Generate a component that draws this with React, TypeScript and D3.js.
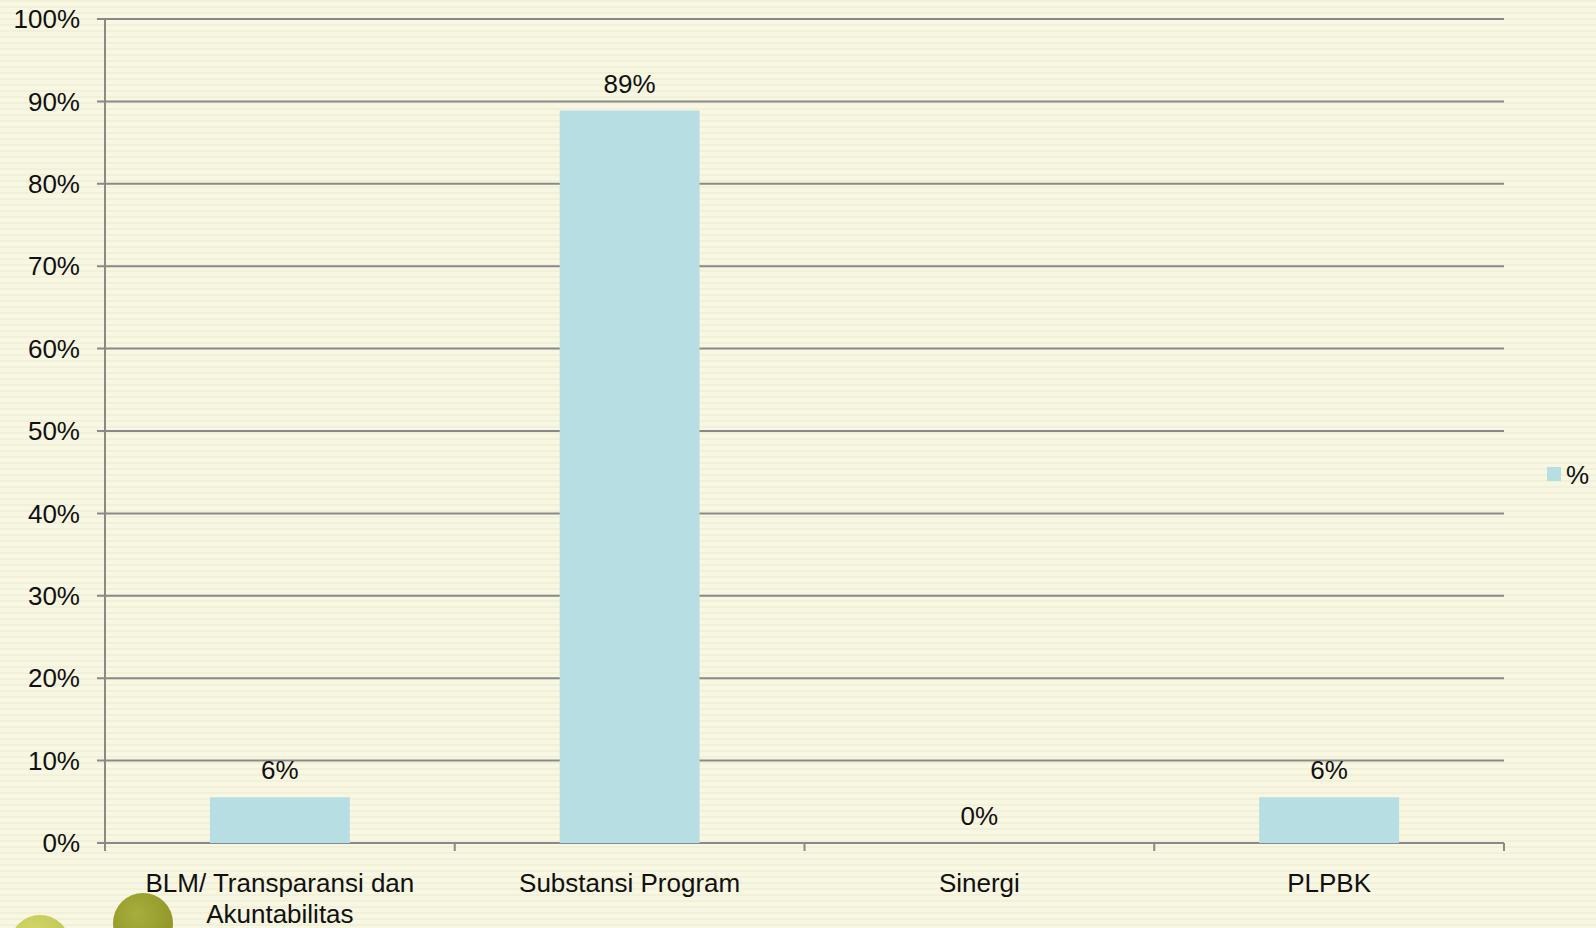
import React from "react";
import * as d3 from "d3";

const CATEGORIES = ["BLM/ Transparansi dan\nAkuntabilitas", "Substansi Program", "Sinergi", "PLPBK"];
const VALUES = [1 / 18, 16 / 18, 0, 1 / 18];
const Y_TICKS = [0, 0.1, 0.2, 0.3, 0.4, 0.5, 0.6, 0.7, 0.8, 0.9, 1];
const SERIES_NAME = "%";

const W = 1596;
const H = 928;
const M = { top: 19, right: 92, bottom: 85, left: 105 };
const BAR_COLOR = "#B7DFE3";
const GRID = "#898989";
const FONT = "'Liberation Sans', Arial, sans-serif";
const FS = 26;

const App: React.FC = () => {
  const iW = W - M.left - M.right;
  const iH = H - M.top - M.bottom;

  const x = d3.scaleBand<string>().domain(CATEGORIES).range([0, iW]).paddingInner(0).paddingOuter(0);
  const y = d3.scaleLinear().domain([0, 1]).range([iH, 0]);
  const barW = x.bandwidth() * 0.4;
  const fmt = d3.format(".0%");

  // faint horizontal stripes in the background
  const stripes = d3.range(0, H, 6);

  return (
    <div style={{ position: "fixed", left: 0, top: 0, width: W, height: H }}>
      <svg width={W} height={H} style={{ display: "block", fontFamily: FONT }}>
        <rect width={W} height={H} fill="#F8F7E3" />
        {stripes.map(s => (
          <rect key={s} x={0} y={s} width={W} height={2} fill="#F2F0D7" />
        ))}

        {/* decorative circles */}
        <defs>
          <radialGradient id="c1" cx="0.4" cy="0.35" r="0.7">
            <stop offset="0%" stopColor="#D3DA6E" />
            <stop offset="100%" stopColor="#BCC34C" />
          </radialGradient>
          <radialGradient id="c2" cx="0.4" cy="0.35" r="0.7">
            <stop offset="0%" stopColor="#A7AE3C" />
            <stop offset="100%" stopColor="#8E9527" />
          </radialGradient>
        </defs>
        <circle cx={40} cy={945} r={30} fill="url(#c1)" />
        <circle cx={143} cy={923} r={30} fill="url(#c2)" />

        <g transform={`translate(${M.left},${M.top})`}>
          {/* gridlines + y ticks */}
          {Y_TICKS.map(t => (
            <g key={t} transform={`translate(0,${y(t)})`}>
              <line x1={-8} x2={iW} stroke={GRID} strokeWidth={2} />
              <text x={-25} dy="0.35em" textAnchor="end" fontSize={FS} fill="#111">
                {fmt(t)}
              </text>
            </g>
          ))}
          <line x1={0} x2={0} y1={0} y2={iH} stroke={GRID} strokeWidth={2} />

          {/* category boundary ticks */}
          {d3.range(CATEGORIES.length + 1).map(i => (
            <line key={i} x1={i * x.step()} x2={i * x.step()} y1={iH} y2={iH + 8} stroke={GRID} strokeWidth={2} />
          ))}

          {/* bars */}
          {CATEGORIES.map((c, i) => {
            const cx = x(c)! + x.bandwidth() / 2;
            return (
              <g key={c}>
                <rect x={cx - barW / 2} y={y(VALUES[i])} width={barW} height={iH - y(VALUES[i])} fill={BAR_COLOR} />
                <text x={cx} y={y(VALUES[i]) - 27} dy="0.35em" textAnchor="middle" fontSize={FS} fill="#111">
                  {fmt(VALUES[i])}
                </text>
                {c.split("\n").map((line, j) => (
                  <text key={j} x={cx} y={iH + 40 + j * 31} dy="0.35em" textAnchor="middle" fontSize={FS} fill="#111">
                    {line}
                  </text>
                ))}
              </g>
            );
          })}
        </g>

        {/* legend */}
        <rect x={1547} y={467} width={14} height={14} fill={BAR_COLOR} />
        <text x={1566} y={475} dy="0.35em" fontSize={FS} fill="#111">
          {SERIES_NAME}
        </text>
      </svg>
    </div>
  );
};

export default App;
